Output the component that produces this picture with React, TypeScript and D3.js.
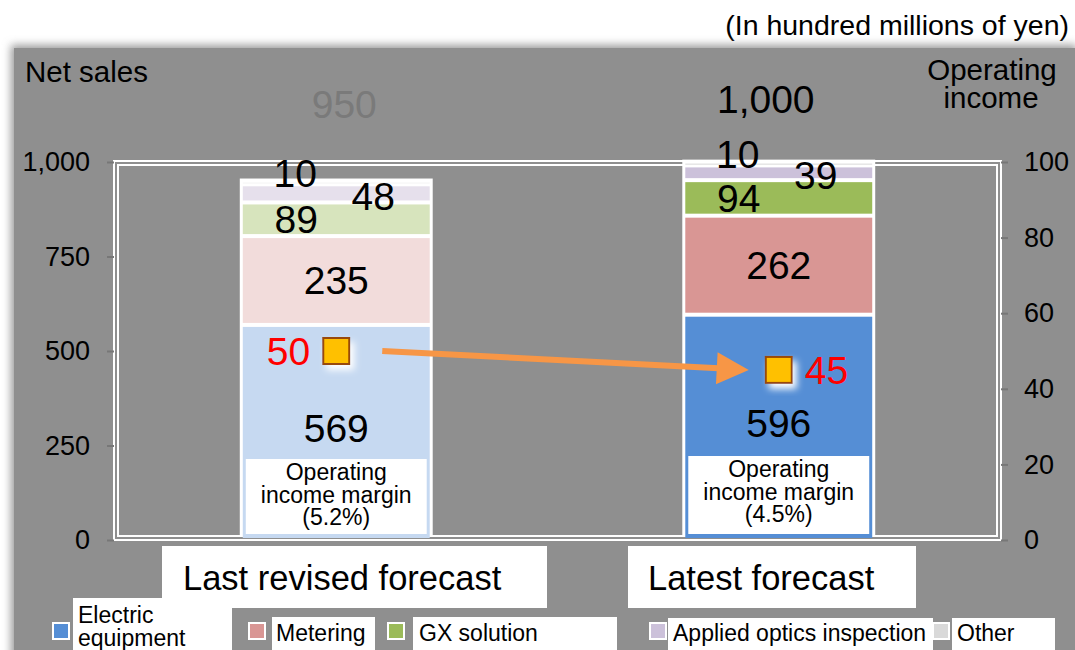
import * as d3 from 'd3';
import React, { useRef, useEffect } from 'react';

// chart values (hundred millions of yen)
const categories = ['Last revised forecast', 'Latest forecast'];
const seriesNames = ['Electric equipment', 'Metering', 'GX solution', 'Applied optics inspection', 'Other'];
const electric = [569, 596];
const metering = [235, 262];
const gxSolution = [89, 94];
const appliedOptics = [48, 39];
const other = [10, 10];
const totals = [950, 1000];
const operatingIncome = [50, 45];
const margins = ['5.2%', '4.5%'];
const salesTicks = [0, 250, 500, 750, 1000];
const incomeTicks = [0, 20, 40, 60, 80, 100];

const fullColors = ['#558ed5', '#d99694', '#9bbb59', '#ccc1da', '#d9d9d9'];
const lightColors = ['#c6d9f1', '#f2dcdb', '#d7e4bd', '#e6e0ec', '#f4f4f4'];
// label nudges for the thin segments
const labelDx = [0, 0, -40, 37, -41];
const labelDy = [-4, 0, 0, 3, -9];

const FONT = '"Liberation Sans", Arial, sans-serif';

const App = () => {
  const width = 1075;
  const height = 650;
  const left = 115;
  const right = 1000;
  const top = 162;
  const bottom = 540;

  const gl = useRef(null);
  const gr = useRef(null);

  const rows = categories.map((c, i) => ({
    category: c,
    [seriesNames[0]]: electric[i],
    [seriesNames[1]]: metering[i],
    [seriesNames[2]]: gxSolution[i],
    [seriesNames[3]]: appliedOptics[i],
    [seriesNames[4]]: other[i],
  }));
  const stacked = d3.stack().keys(seriesNames)(rows as any);

  const x = d3.scaleBand().domain(categories).range([left, right]).paddingInner(0.564).paddingOuter(0.282);
  const yL = d3.scaleLinear([0, 1000], [bottom, top]);
  const yR = d3.scaleLinear([0, 100], [bottom, top]);
  const bw = x.bandwidth();
  const fmt = d3.format(',');

  useEffect(() => {
    const styleAxis = (g) => {
      g.select('.domain').remove();
      g.selectAll('.tick line').attr('stroke', '#777').attr('stroke-width', 2);
      g.selectAll('.tick text').attr('font-size', 27).attr('font-family', FONT).attr('fill', '#000');
    };
    d3.select(gl.current)
      .call(d3.axisLeft(yL).tickValues(salesTicks).tickFormat(fmt).tickSize(7).tickPadding(17))
      .call(styleAxis);
    d3.select(gr.current)
      .call(d3.axisRight(yR).tickValues(incomeTicks).tickSize(7).tickPadding(16))
      .call(styleAxis);
  }, []);

  const markers = categories.map((c, i) => ({
    cx: x(c) + bw / 2,
    cy: yR(operatingIncome[i]),
  }));
  const arrowStart = [markers[0].cx + 46, markers[0].cy];
  const arrowEnd = [markers[1].cx - 30, markers[1].cy];
  const ang = Math.atan2(arrowEnd[1] - arrowStart[1], arrowEnd[0] - arrowStart[0]);
  const headLen = 32;
  const headHalf = 16;
  const baseX = arrowEnd[0] - headLen * Math.cos(ang);
  const baseY = arrowEnd[1] - headLen * Math.sin(ang);
  const head = [
    [arrowEnd[0], arrowEnd[1]],
    [baseX - headHalf * Math.sin(ang), baseY + headHalf * Math.cos(ang)],
    [baseX + headHalf * Math.sin(ang), baseY - headHalf * Math.cos(ang)],
  ];

  // legend layout
  const legend = [
    { icon: 61, box: [73, 598, 159, 52], tx: 78, lines: ['Electric', 'equipment'] },
    { icon: 257, box: [272, 617, 103, 33], tx: 276, lines: ['Metering'] },
    { icon: 396, box: [413, 617, 204, 33], tx: 419, lines: ['GX solution'] },
    { icon: 658, box: [668, 618, 265, 32], tx: 673, lines: ['Applied optics inspection'] },
    { icon: 941, box: [952, 618, 103, 32], tx: 957, lines: ['Other'] },
  ];

  return (
    <svg width={width} height={height} style={{ position: 'absolute', left: 0, top: 0 }} fontFamily={FONT}>
      <defs>
        <filter id="panelShadow" x="-5%" y="-5%" width="110%" height="110%">
          <feGaussianBlur stdDeviation="4" />
        </filter>
        <filter id="glow" x="-50%" y="-50%" width="200%" height="200%">
          <feFlood floodColor="#ffffff" result="f" />
          <feComposite in="f" in2="SourceAlpha" operator="in" result="w" />
          <feGaussianBlur in="w" stdDeviation="3.5" result="b" />
          <feOffset in="b" dx="4" dy="5" result="o" />
          <feMerge>
            <feMergeNode in="o" />
            <feMergeNode in="SourceGraphic" />
          </feMerge>
        </filter>
      </defs>
      <rect width={width} height={height} fill="#fff" />
      <text x={1069} y={35} fontSize={28.5} textAnchor="end">(In hundred millions of yen)</text>

      <rect x={11} y={45} width={1066} height={620} fill="#9a9a9a" filter="url(#panelShadow)" />
      <rect x={14} y={48} width={1061} height={610} fill="#8f8f8f" />

      <text x={25} y={82} fontSize={29.5}>Net sales</text>
      <text x={992} y={80} fontSize={29.5} textAnchor="middle">Operating</text>
      <text x={991} y={108} fontSize={29.5} textAnchor="middle">income</text>

      {/* plot frame */}
      <rect x={114} y={161} width={887} height={379} fill="none" stroke="#fff" strokeWidth={2} />
      <rect x={118} y={165} width={879} height={371} fill="none" stroke="#fff" strokeWidth={2} />

      <g ref={gl} transform={`translate(${left - 1},0)`} />
      <g ref={gr} transform={`translate(${right + 1},0)`} />

      {/* bars */}
      {categories.map((c, i) => (
        <rect key={c} x={x(c)} y={yL(totals[i] + 1) - 2} width={bw} height={bottom - yL(totals[i] + 1) - 2} fill="#fff" />
      ))}
      {stacked.map((layer, si) =>
        layer.map((d, i) => {
          const y0 = yL(d[0]);
          const y1 = yL(d[1]);
          return (
            <rect
              key={`${si}-${i}`}
              x={x(categories[i]) + 3}
              y={y1 + 2}
              width={bw - 6}
              height={Math.max(1, y0 - y1 - 4)}
              fill={i === 0 ? lightColors[si] : fullColors[si]}
            />
          );
        })
      )}
      {stacked.map((layer, si) =>
        layer.map((d, i) => (
          <text
            key={`l${si}-${i}`}
            x={x(categories[i]) + bw / 2 + labelDx[si]}
            y={(yL(d[0]) + yL(d[1])) / 2 + labelDy[si]}
            dy="0.35em"
            fontSize={39}
            textAnchor="middle"
          >
            {d[1] - d[0]}
          </text>
        ))
      )}

      {/* totals */}
      {categories.map((c, i) => (
        <text
          key={`t${c}`}
          x={x(c) + bw / 2 + (i === 0 ? 8 : -13)}
          y={yL(1000) - (i === 0 ? 44 : 49)}
          fontSize={39}
          textAnchor="middle"
          fill={i === 0 ? '#7a7a7a' : '#000'}
        >
          {fmt(totals[i])}
        </text>
      ))}

      {/* margin boxes */}
      {categories.map((c, i) => {
        const bx = x(c) + 6;
        const by = bottom - (i === 0 ? 81 : 84);
        return (
          <g key={`m${c}`}>
            <rect x={bx} y={by} width={bw - 12} height={i === 0 ? 75 : 78} fill="#fff" />
            <text x={x(c) + bw / 2} textAnchor="middle" fontSize={23}>
              <tspan x={x(c) + bw / 2} y={by + 21}>Operating</tspan>
              <tspan x={x(c) + bw / 2} y={by + 43.5}>income margin</tspan>
              <tspan x={x(c) + bw / 2} y={by + 66}>({margins[i]})</tspan>
            </text>
          </g>
        );
      })}

      {/* arrow */}
      <line
        x1={arrowStart[0]}
        y1={arrowStart[1]}
        x2={baseX + 2}
        y2={baseY}
        stroke="#f79646"
        strokeWidth={6}
      />
      <polygon points={head.map((p) => p.join(',')).join(' ')} fill="#f79646" />

      {/* operating income markers */}
      {markers.map((m, i) => (
        <g key={`o${i}`}>
          <rect x={m.cx - 13} y={m.cy - 13} width={26} height={26} fill="#ffc000" stroke="#984807" strokeWidth={2} filter="url(#glow)" />
          <text
            x={i === 0 ? m.cx - 26 : m.cx + 26}
            y={m.cy}
            dy="0.35em"
            fontSize={39}
            fill="#ff0000"
            textAnchor={i === 0 ? 'end' : 'start'}
          >
            {operatingIncome[i]}
          </text>
        </g>
      ))}

      {/* category labels */}
      <rect x={162} y={546} width={385} height={62} fill="#fff" />
      <text x={183} y={590} fontSize={34.5}>{categories[0]}</text>
      <rect x={628} y={546} width={288} height={62} fill="#fff" />
      <text x={648} y={590} fontSize={34.5}>{categories[1]}</text>

      {/* legend */}
      {legend.map((l, i) => (
        <g key={`lg${i}`}>
          <rect x={l.box[0]} y={l.box[1]} width={l.box[2]} height={l.box[3]} fill="#fff" />
          <rect x={l.icon - 8} y={623} width={16} height={16} fill={fullColors[i]} stroke="#fff" strokeWidth={2} />
          {l.lines.length === 2 ? (
            <text fontSize={23}>
              <tspan x={l.tx} y={623}>{l.lines[0]}</tspan>
              <tspan x={l.tx} y={646}>{l.lines[1]}</tspan>
            </text>
          ) : (
            <text x={l.tx} y={641} fontSize={23}>{l.lines[0]}</text>
          )}
        </g>
      ))}
    </svg>
  );
};

export default App;
